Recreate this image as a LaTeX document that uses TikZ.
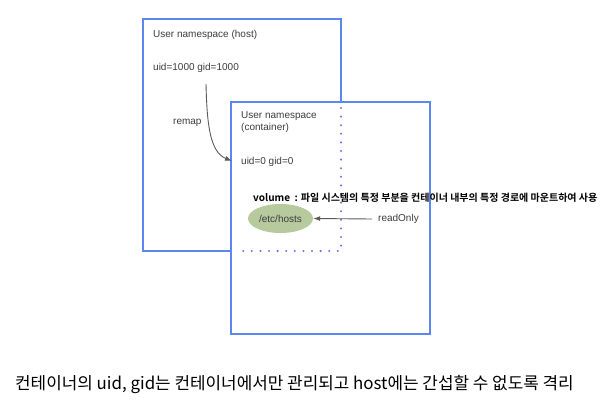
\documentclass[tikz,border=0pt]{standalone}
\usepackage{fontspec}
\setmainfont{Liberation Sans}
\newfontfamily\krfont{Noto Sans CJK KR}[BoldFont={* Bold}]
\usetikzlibrary{arrows.meta,shapes.geometric}
\definecolor{boxblue}{RGB}{92,134,240}
\definecolor{dotblue}{RGB}{110,115,230}
\definecolor{sage}{RGB}{182,202,158}
\definecolor{lbl}{RGB}{60,60,60}
\definecolor{arr}{RGB}{90,90,90}
\tikzset{
  nsbox/.style={draw=boxblue, line width=2pt},
  dotline/.style={draw=dotblue, line width=2.3pt, line cap=round, dash pattern=on 0pt off 8.6pt},
  lab/.style={font=\fontsize{10}{12}\selectfont, text=lbl, inner sep=0pt, anchor=west},
  arrline/.style={draw=arr, line width=0.9pt, -{Latex[length=7pt,width=5pt]}},
}
\begin{document}
\begin{tikzpicture}[x=1pt,y=-1pt]
\useasboundingbox (0,0) rectangle (611,415);
% host box (visible parts)
\draw[nsbox] (231,251) -- (143,251) -- (143,19) -- (341,19) -- (341,101);
% container box
\node[nsbox, minimum width=199pt, minimum height=232pt, inner sep=0pt, anchor=north west] (cont) at (230,101) {};
% hidden parts of host box, dotted
\draw[dotline] (341,108) -- (341,251) -- (236,251);
% labels in host
\node[lab] (hostt) at (153,35) {User namespace (host)};
\node[lab] (hostid) at (153,68) {uid=1000 gid=1000};
\node[lab] (remap) at (173,123) {remap};
% labels in container
\node[lab, align=left, anchor=north west] (contt) at (241,111) {User namespace\\(container)};
\node[lab] (contid) at (241,162) {uid=0 gid=0};
\coordinate (rs) at (206,84);
\coordinate (re) at (232,161);
\draw[arrline] (rs) .. controls (207,125) and (210,152) .. (re);
% volume
\node[font=\krfont\bfseries\fontsize{10}{12}\selectfont, inner sep=0pt, anchor=west] (vol) at (253,198) {volume\ \ : 파일 시스템의 특정 부분을 컨테이너 내부의 특정 경로에 마운트하여 사용};
\node[ellipse, fill=sage, minimum width=65pt, minimum height=29pt, inner sep=0pt, lab, anchor=center] (hosts) at (280.5,218.5) {/etc/hosts};
\node[lab] (ro) at (378,219) {readOnly};
\coordinate (rostart) at (372,219);
\draw[arrline] (rostart) -- (hosts.east);
% caption
\node[inner sep=0pt, anchor=west, font=\krfont\fontsize{16.9}{20}\selectfont] (cap) at (15,385) {컨테이너의 uid, gid는 컨테이너에서만 관리되고 host에는 간섭할 수 없도록 격리};
\end{tikzpicture}
\end{document}
